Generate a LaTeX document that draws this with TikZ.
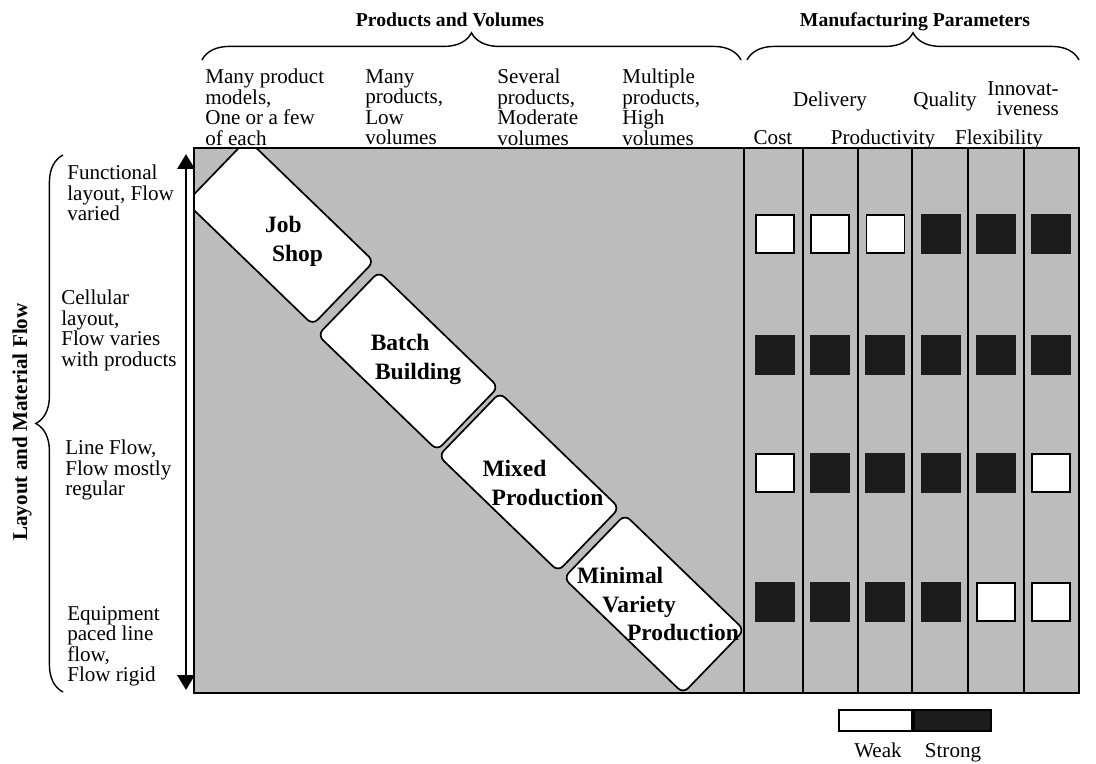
\documentclass[tikz,border=0pt]{standalone}
\usepackage{fontspec}
\setmainfont{Liberation Serif}
\usepackage{tikz}
\usetikzlibrary{arrows.meta,decorations.pathreplacing}
\usepackage{xcolor}
\definecolor{panelgray}{RGB}{188,188,188}
\definecolor{inkblack}{RGB}{28,28,28}
\tikzset{
  frame/.style     = {draw, line width=1.6pt},
  stage/.style     = {draw, line width=1.2pt, fill=white, rectangle,
                      rounded corners=5pt, minimum width=4.15cm,
                      minimum height=2.2cm, inner sep=0pt},
  stagetext/.style = {font=\fontsize{16.7}{20.6}\selectfont\bfseries,
                      align=left, inner sep=0pt},
  rowtext/.style   = {font=\fontsize{15}{14.6}\selectfont, align=left,
                      anchor=north west, inner sep=0pt},
  partext/.style   = {font=\fontsize{15}{14.6}\selectfont, anchor=base,
                      inner sep=0pt},
  headtext/.style  = {font=\fontsize{14}{16}\selectfont\bfseries,
                      anchor=base, inner sep=0pt},
  cellW/.style     = {draw, line width=1.2pt, fill=white, inner sep=0pt,
                      minimum size=0.95cm},
  cellS/.style     = {fill=inkblack, inner sep=0pt, minimum size=1cm},
  bracket/.style   = {decorate, decoration={brace, amplitude=0.68cm},
                      line width=1pt},
  flowaxis/.style  = {{Triangle[length=10.5pt,width=12pt]}-{Triangle[length=10.5pt,width=12pt]},
                      line width=2pt},
}

\begin{document}
\begin{tikzpicture}[x=0.025cm,y=-0.025cm]
\useasboundingbox (0,0) rectangle (1096,763);
% ---------- panel ----------
\coordinate (panelNW) at (194,148);
\coordinate (panelSE) at (1079,693);
\fill[panelgray] (panelNW) rectangle (panelSE);
% ---------- diagonal of production types ----------
\begin{scope}
\clip (panelNW) rectangle (744,693);
\node[stage, rotate=-44, minimum width=4.4cm] (job) at (280,232) {};
\node[stage, rotate=-44] (batch) at (408,361) {};
\node[stage, rotate=-44] (mixed) at (529,482) {};
\node[stage, rotate=-44] (minimal) at (654,604) {};
\end{scope}
\node[stagetext] (jobtxt) at (294,241) {Job\\\hspace*{5pt}Shop};
\node[stagetext] (batchtxt) at (416,359) {Batch\\\hspace*{3pt}Building};
\node[stagetext] (mixedtxt) at (543,483) {Mixed\\\hspace*{6.5pt}Production};
\node[stagetext] (minimaltxt) at (658,604)
  {Minimal\\\hspace*{18pt}Variety\\\hspace*{35.5pt}Production};
% ---------- frame and parameter columns ----------
\draw[frame] (panelNW) rectangle (panelSE);
\foreach \x in {744,803,858,912,968,1024}
  \draw[frame] (\x,148) -- (\x,693);
\foreach \r/\ry/\pat in {1/234/{W,W,W,S,S,S}, 2/355/{S,S,S,S,S,S},
                         3/473/{W,S,S,S,S,W}, 4/602/{S,S,S,S,W,W}}
  \foreach \k [count=\c] in \pat
    \node[cell\k] (sq\r\c) at ({775+55.2*(\c-1)},\ry) {};
% ---------- top headers ----------
\node[headtext] (pvtitle) at (450,26) {Products and Volumes};
\node[headtext] (mptitle) at (915,26) {Manufacturing Parameters};
\draw[bracket] (202,60) -- (741,60);
\draw[bracket] (747,60) -- (1079,60);
\node[rowtext] (vol1) at (205,69) {Many product\\models,\\One or a few\\of each};
\node[rowtext] (vol2) at (365,69) {Many\\products,\\Low\\volumes};
\node[rowtext] (vol3) at (497,69) {Several\\products,\\Moderate\\volumes};
\node[rowtext] (vol4) at (622,69) {Multiple\\products,\\High\\volumes};
\node[partext] (pcost) at (773,144) {Cost};
\node[partext] (pdel) at (830,106) {Delivery};
\node[partext] (pprod) at (883,144) {Productivity};
\node[partext] (pqual) at (945,106) {Quality};
\node[partext] (pflex) at (999,144) {Flexibility};
\node[rowtext, align=right, anchor=north east] (pinno) at (1059,81)
  {Innovat-\\iveness};
% ---------- left side ----------
\node[headtext, font=\fontsize{15}{17}\selectfont\bfseries, rotate=90,
      anchor=center] (flowtitle) at (22,422) {Layout and Material Flow};
\draw[bracket] (63,692) -- (63,155);
\node[rowtext] (lay1) at (67,165) {Functional\\layout, Flow\\varied};
\node[rowtext] (lay2) at (61,290) {Cellular\\layout,\\Flow varies\\with products};
\node[rowtext] (lay3) at (65,440) {Line Flow,\\Flow mostly\\regular};
\node[rowtext] (lay4) at (67,606) {Equipment\\paced line\\flow,\\Flow rigid};
\coordinate (axtop) at (186,154);
\coordinate (axbot) at (186,690);
\draw[flowaxis] (axbot) -- (axtop);
% ---------- legend ----------
\node[draw, line width=1.2pt, fill=white, minimum width=1.825cm,
      minimum height=0.525cm, inner sep=0pt] (weakbar) at (875.5,720.5) {};
\node[draw, line width=1.2pt, fill=inkblack, minimum width=1.925cm,
      minimum height=0.525cm, inner sep=0pt, anchor=west] (strongbar)
      at (weakbar.east) {};
\node[partext] (weaktxt) at (878,757) {Weak};
\node[partext] (strongtxt) at (953,757) {Strong};
\end{tikzpicture}
\end{document}
